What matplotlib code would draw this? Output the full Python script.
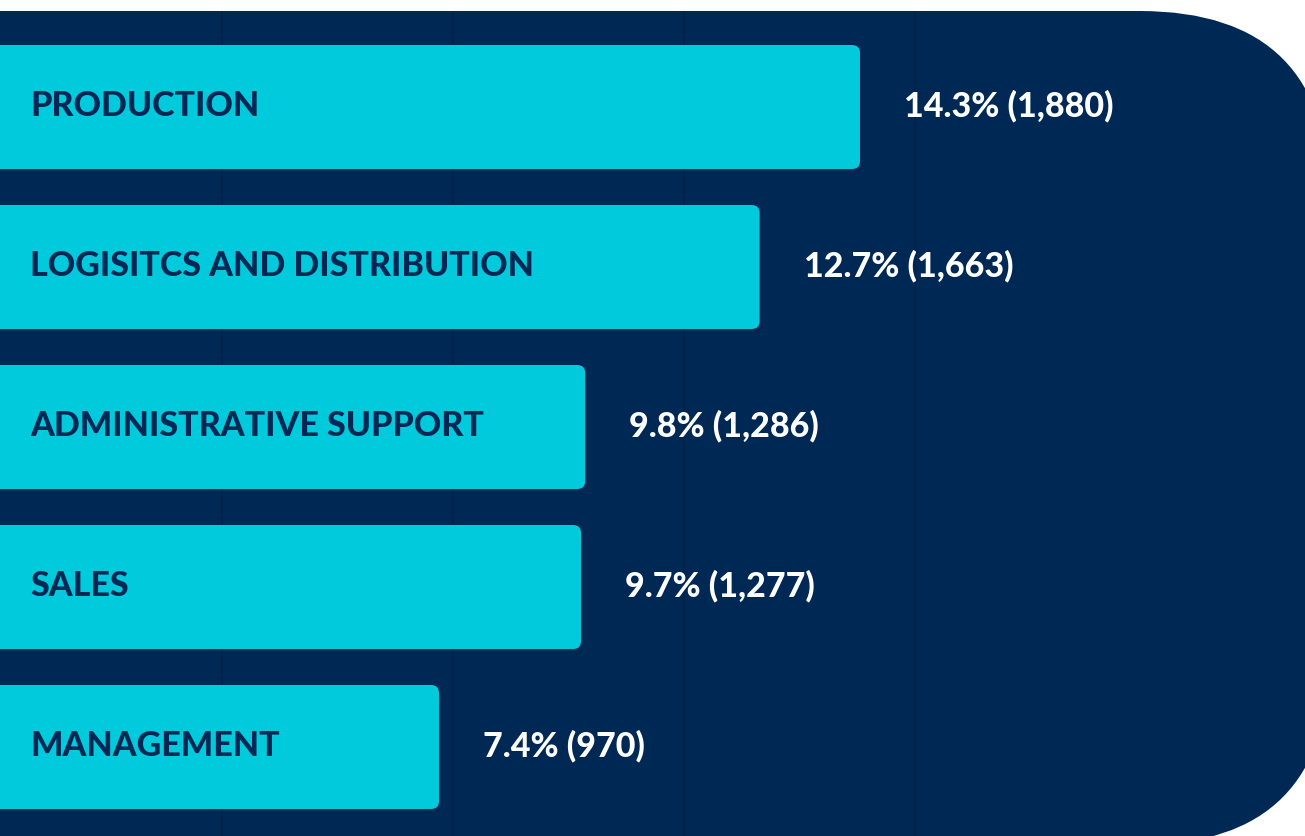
import matplotlib
matplotlib.use("Agg")
import matplotlib.pyplot as plt
from matplotlib.patches import FancyBboxPatch

# data
categories = ["PRODUCTION", "LOGISITCS AND DISTRIBUTION", "ADMINISTRATIVE SUPPORT",
              "SALES", "MANAGEMENT"]
counts = [1880, 1663, 1286, 1277, 970]
shares = [14.3, 12.7, 9.8, 9.7, 7.4]
grid_ticks = [500, 1000, 1500, 2000]

NAVY = "#002855"
CYAN = "#00CADC"
GRID = "#00214a"
FONT = "Lato"

W, H = 1305, 836
fig = plt.figure(figsize=(W / 100, H / 100), dpi=100)
fig.patch.set_facecolor("white")

# background panel with big rounded right side (pixel coords)
bg = fig.add_axes([0, 0, 1, 1])
bg.set_xlim(0, W)
bg.set_ylim(H, 0)
bg.axis("off")
panel = FancyBboxPatch((-400, 11), 1730, 834,
                       boxstyle="round,pad=0,rounding_size=190",
                       facecolor=NAVY, edgecolor="none")
bg.add_patch(panel)

ax = fig.add_axes([0, 0, 1, 1])
ax.patch.set_alpha(0)
px_per_count = 0.4626
x0 = 9.7 / px_per_count
x1 = x0 + W / px_per_count
ax.set_xlim(x0, x1)
pitch = 160.0
top = -107 / pitch
ax.set_ylim(top + H / pitch, top)
ax.axis("off")

for g in grid_ticks:
    ln = ax.axvline(g, color=GRID, lw=1.2, zorder=1)
    ln.set_clip_path(panel)

bar_h = 124 / pitch
r = 8 / px_per_count
aspect = px_per_count / pitch
for i, (cat, c, s) in enumerate(zip(categories, counts, shares)):
    ax.add_patch(FancyBboxPatch((-50, i - bar_h / 2), c + 50, bar_h,
                                boxstyle=f"round,pad=0,rounding_size={r}",
                                mutation_aspect=aspect,
                                facecolor=CYAN, edgecolor="none", zorder=2))
    ax.annotate(cat, xy=(0, i), xytext=(40, 1), textcoords="offset pixels",
                ha="left", va="center", color=NAVY, fontsize=24.5,
                fontweight="black", family=FONT, zorder=3,
                annotation_clip=False)
    ax.annotate(f"{s}% ({c:,})", xy=(c, i), xytext=(44, 1),
                textcoords="offset pixels", ha="left", va="center",
                color="white", fontsize=24.5, fontweight="black",
                family=FONT, zorder=3)

fig.savefig("out.png", dpi=100, facecolor=fig.get_facecolor())
